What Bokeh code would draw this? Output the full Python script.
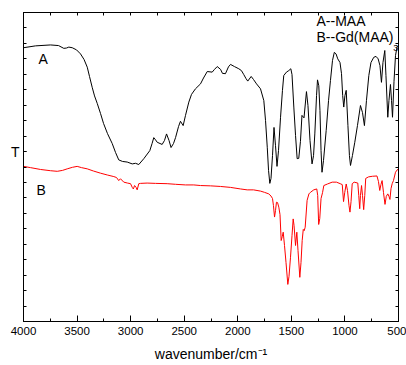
from bokeh.plotting import figure
from bokeh.models import Range1d, FixedTicker, LinearAxis, Label
from bokeh.embed import file_html
from bokeh.resources import INLINE

# Curve A (MAA) - wavenumber (cm-1) and transmittance (arbitrary units)
a_wn = [4000, 3888, 3748, 3673, 3624, 3599, 3577, 3545, 3505, 3468, 3435, 3405, 3384,
        3359, 3337, 3312, 3281, 3253, 3216, 3172, 3141, 3111, 3076, 3032, 2985, 2955,
        2924, 2877, 2821, 2800, 2784, 2768, 2752, 2706, 2684, 2665, 2642, 2623, 2600,
        2581, 2553, 2535, 2510, 2488, 2457, 2432, 2395, 2348, 2320, 2285, 2239, 2217,
        2192, 2161, 2143, 2115, 2087, 2068, 2031, 1991, 1966, 1944, 1923, 1907, 1875,
        1853, 1825, 1788, 1757, 1741, 1725, 1713, 1701, 1690, 1676, 1662, 1648, 1634,
        1620, 1601, 1583, 1571, 1546, 1524, 1505, 1494, 1477, 1461, 1446, 1431, 1415,
        1401, 1382, 1359, 1345, 1326, 1307, 1293, 1281, 1265, 1256, 1244, 1233, 1223,
        1214, 1200, 1175, 1153, 1135, 1116, 1099, 1083, 1067, 1046, 1032, 1021, 1011,
        1000, 988, 972, 958, 948, 930, 908, 883, 855, 836, 818, 799, 777, 757, 731,
        710, 690, 673, 659, 645, 628, 617, 600, 589, 575, 565, 556, 542, 528, 514, 500]
a_t = [88.6, 89.2, 89.5, 89.3, 88.4, 88.5, 88.8, 88.6, 87.9, 86.6, 84.8, 82.3, 79.3,
       75.8, 73.0, 70.6, 67.3, 64.1, 60.8, 57.6, 54.7, 52.3, 51.8, 51.6, 51.0, 51.2,
       50.8, 52.7, 55.3, 57.6, 59.5, 58.8, 58.0, 57.3, 58.6, 60.7, 58.6, 56.3, 57.6,
       59.5, 63.1, 64.8, 63.4, 66.7, 71.0, 73.5, 75.3, 76.9, 78.8, 80.9, 80.7, 81.6,
       82.5, 81.6, 80.3, 80.2, 82.4, 83.2, 82.5, 81.8, 81.2, 79.9, 78.6, 77.8, 79.3,
       78.3, 76.9, 75.3, 71.5, 65.0, 56.4, 48.9, 44.7, 46.3, 53.7, 62.8, 56.9, 50.2,
       55.3, 66.1, 74.8, 79.6, 80.7, 81.2, 81.8, 79.9, 69.4, 60.2, 52.7, 52.8, 58.3,
       66.7, 65.9, 74.4, 69.9, 58.6, 51.0, 53.7, 60.7, 73.1, 78.2, 76.3, 68.3, 55.3,
       48.3, 52.1, 61.8, 71.5, 78.0, 84.5, 87.1, 86.6, 85.0, 83.8, 80.2, 73.1, 69.4,
       73.1, 74.8, 63.4, 53.7, 50.5, 53.7, 58.0, 63.4, 69.9, 67.6, 63.4, 71.5, 79.6, 83.8, 85.5,
       85.8, 85.0, 82.8, 77.4, 83.8, 87.7, 79.6, 66.1, 71.5, 76.7, 71.5, 66.1, 77.7, 86.1, 88.7, 89.3]

# Curve B (Gd(MAA)3)
b_wn = [4000, 3935, 3841, 3748, 3685, 3636, 3592, 3543, 3499, 3459, 3405, 3347, 3281,
        3216, 3157, 3132, 3111, 3095, 3064, 3029, 3001, 2985, 2975, 2963, 2949, 2939,
        2924, 2908, 2846, 2768, 2659, 2581, 2488, 2411, 2348, 2255, 2161, 2068, 1975,
        1912, 1853, 1788, 1751, 1711, 1690, 1676, 1667, 1657, 1648, 1639, 1629, 1617,
        1606, 1595, 1585, 1576, 1564, 1550, 1533, 1522, 1508, 1494, 1483, 1475, 1461,
        1449, 1438, 1421, 1410, 1399, 1389, 1380, 1371, 1353, 1336, 1322, 1291, 1263,
        1254, 1245, 1235, 1223, 1209, 1197, 1163, 1119, 1079, 1044, 1025, 1013, 1002,
        988, 976, 962, 953, 943, 932, 914, 880, 871, 862, 855, 845, 836, 825, 815, 806,
        780, 743, 701, 687, 675, 664, 653, 640, 626, 614, 600, 589, 580, 570, 559, 547,
        528, 514, 500]
b_t = [50.2, 49.8, 49.2, 48.8, 48.6, 48.9, 49.4, 49.9, 50.2, 49.8, 49.4, 48.7, 48.0,
       47.4, 46.9, 46.6, 45.6, 46.2, 45.1, 44.8, 44.6, 43.4, 42.9, 44.0, 43.4, 42.6,
       44.6, 44.7, 44.8, 44.7, 44.6, 44.4, 44.2, 44.2, 44.0, 43.9, 43.7, 43.4, 42.9,
       42.6, 42.6, 42.2, 41.8, 41.3, 40.6, 39.8, 37.5, 33.8, 35.9, 38.6, 38.5, 37.0,
       34.6, 26.2, 27.5, 28.9, 24.6, 19.1, 12.0, 14.6, 20.8, 27.8, 33.2, 31.1, 24.6,
       28.9, 23.0, 14.3, 19.1, 26.2, 29.8, 29.4, 30.5, 39.2, 41.3, 41.8, 42.6, 42.9,
       40.8, 31.4, 33.3, 39.8, 41.7, 44.0, 44.5, 45.1, 45.1, 44.6, 44.3, 38.8, 41.7,
       44.5, 42.4, 37.5, 35.4, 38.8, 44.6, 45.1, 44.8, 40.8, 36.5, 40.8, 44.0, 40.8, 36.2, 40.8, 46.3,
       46.8, 47.0, 47.1, 45.3, 42.4, 44.3, 45.6, 41.7, 37.9, 40.5, 41.3, 40.5, 39.5, 43.0, 44.6, 45.6,
       48.3, 49.0, 49.4]

x_major = [4000, 3500, 3000, 2500, 2000, 1500, 1000, 500]
x_minor = [3750, 3250, 2750, 2250, 1750, 1250, 750]
y_minor = list(range(0, 101, 5))
y_major = [55]
y_labels = {55: "T"}

FONT = "Liberation Sans"

p = figure(width=406, height=365, output_backend="svg", toolbar_location=None,
           x_range=Range1d(4000, 500), y_range=Range1d(0, 100),
           min_border_left=23, min_border_right=8, min_border_top=12, min_border_bottom=44)
p.grid.visible = False
p.outline_line_color = "black"
p.outline_line_width = 1

p.line(a_wn, a_t, line_color="black", line_width=1)
p.line(b_wn, b_t, line_color="red", line_width=1)

xt = FixedTicker(ticks=x_major, minor_ticks=x_minor)
yt = FixedTicker(ticks=y_major, minor_ticks=y_minor)

xa = p.xaxis[0]
xa.ticker = xt
xa.major_tick_in = 6
xa.major_tick_out = 0
xa.minor_tick_in = 3
xa.minor_tick_out = 0
xa.major_label_text_font = FONT
xa.major_label_text_font_size = "11.5px"
xa.major_label_text_color = "black"
xa.major_label_standoff = 5
xa.axis_line_color = "black"
xa.axis_label = "wavenumber/cm\u207b\u00b9"
xa.axis_label_text_font = FONT
xa.axis_label_text_font_size = "14px"
xa.axis_label_text_font_style = "normal"
xa.axis_label_text_color = "black"
xa.axis_label_standoff = 8

ya = p.yaxis[0]
ya.ticker = yt
ya.major_label_overrides = y_labels
ya.major_tick_in = 3
ya.major_tick_out = 0
ya.minor_tick_in = 3
ya.minor_tick_out = 0
ya.major_label_text_font = FONT
ya.major_label_text_font_size = "14px"
ya.major_label_text_color = "black"
ya.major_label_standoff = 4
ya.axis_line_color = "black"

# top and right axes: tick marks only, no labels
top = LinearAxis(ticker=FixedTicker(ticks=[], minor_ticks=x_major + x_minor),
                 major_tick_in=0, major_tick_out=0, minor_tick_in=3, minor_tick_out=0,
                 major_label_standoff=0)
right = LinearAxis(ticker=FixedTicker(ticks=[], minor_ticks=y_minor),
                   major_tick_in=0, major_tick_out=0, minor_tick_in=3, minor_tick_out=0,
                   major_label_standoff=0)
p.add_layout(top, "above")
p.add_layout(right, "right")

def lab(x, y, t, size="14px", align="left", base="middle"):
    p.add_layout(Label(x=x, y=y, text=t, text_font=FONT, text_font_size=size,
                       text_align=align, text_baseline=base, text_color="black"))

lab(1265, 97.1, "A--MAA")
lab(1265, 92.2, "B--Gd(MAA)")
lab(548, 88.4, "3", size="9px")
lab(3816, 84.8, "A", align="center")
lab(3835, 42.7, "B", align="center")

open("out.html", "w").write(file_html(p, INLINE))
